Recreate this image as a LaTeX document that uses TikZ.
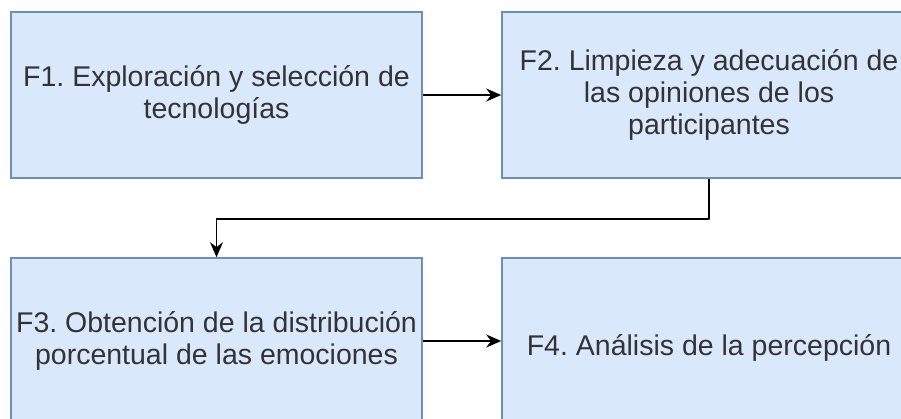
\documentclass[tikz,border=0pt]{standalone}
\usepackage{fontspec}
\setmainfont{Liberation Sans}
\usetikzlibrary{positioning,arrows.meta}
\definecolor{cajafondo}{HTML}{DAE8FC}
\definecolor{cajaborde}{HTML}{6C8EBF}
\definecolor{texto}{HTML}{333333}
\tikzset{
  fase/.style={draw=cajaborde,fill=cajafondo,line width=1.6pt,minimum width=411pt,minimum height=166pt,
    align=center,text=texto,font=\fontsize{28.5}{32}\selectfont\frenchspacing,inner sep=0pt,
    execute at begin node={\rule{0pt}{35pt}}},
  flecha/.style={-{Stealth[length=15pt,width=13pt]},line width=1.6pt,line join=round}
}
\begin{document}
\begin{tikzpicture}[x=1pt,y=-1pt]
  \useasboundingbox (0,0) rectangle (901,419);
  \node[fase] (f1) at (216.5,95) {F1. Exploración y selección de\\tecnologías};
  \node[fase,minimum width=414pt] (f2) at (709,95) {F2. Limpieza y adecuación de\\las opiniones de los\\participantes};
  \node[fase] (f3) at (216.5,341) {F3. Obtención de la distribución\\porcentual de las emociones};
  \node[fase,minimum width=414pt] (f4) at (709,341) {F4. Análisis de la percepción};
  \draw[flecha] (f1) -- (f2);
  \draw[flecha] (f3) -- (f4);
  \draw[flecha] (f2.south) -- ++(0,40) coordinate (codo) -| (f3.north);
\end{tikzpicture}
\end{document}
